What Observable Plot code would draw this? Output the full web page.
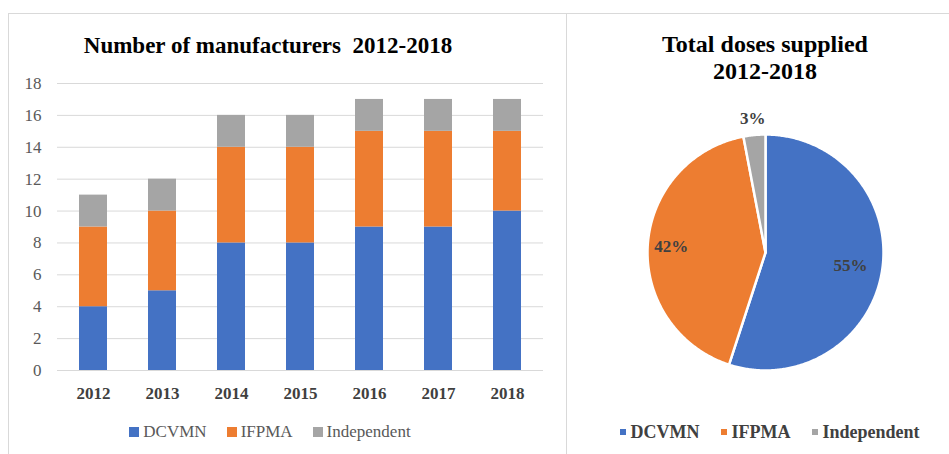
<!DOCTYPE html>
<html>
<head>
<meta charset="utf-8">
<script src="https://cdn.jsdelivr.net/npm/d3@7"></script>
<script src="https://cdn.jsdelivr.net/npm/@observablehq/plot@0.6"></script>
<style>
  html, body { margin: 0; padding: 0; background: #fff; }
  body { width: 949px; height: 454px; overflow: hidden; font-family: "Liberation Serif", Tinos, "Times New Roman", Times, "DejaVu Serif", serif; }
  #root { position: relative; width: 949px; height: 454px; }
  .frame { position: absolute; border-top: 1px solid #d9d9d9; border-left: 1px solid #d9d9d9; box-sizing: border-box; }
  .title { position: absolute; text-align: center; font-weight: bold; color: #000; line-height: 27px; white-space: pre; }
  .legend { position: absolute; display: flex; justify-content: center; align-items: center; height: 24px; white-space: nowrap; }
  .legend .item { display: flex; align-items: center; }
  .chart { position: absolute; }
  svg text { font-family: "Liberation Serif", Tinos, "Times New Roman", Times, "DejaVu Serif", serif; }
  #bar g[aria-label="x-axis tick label"] text { font-weight: bold; }
</style>
</head>
<body>
<div id="root">
  <div class="frame" style="left:8px; top:13px; width:558px; height:441px;"></div>
  <div class="frame" style="left:566px; top:13px; width:383px; height:441px;"></div>
  <div class="title" style="left:18px; top:32px; width:500px; font-size:23px;">Number of manufacturers  2012-2018</div>
  <div class="title" style="left:615px; top:31px; width:300px; font-size:24px;">Total doses supplied<br>2012-2018</div>
  <div id="bar" class="chart" style="left:0px; top:70px;"></div>
  <div id="barLegend" class="legend" style="left:0px; top:420px; width:540px; font-size:17px; color:#595959;"></div>
  <div id="pie" class="chart" style="left:640px; top:100px;"></div>
  <div id="pieLegend" class="legend" style="left:570px; top:420px; width:400px; font-size:18px; font-weight:bold; color:#404040;"></div>
</div>
<script>
// ---- data ----
const years = ["2012", "2013", "2014", "2015", "2016", "2017", "2018"];
const dcvmn = [4, 5, 8, 8, 9, 9, 10];
const ifpma = [5, 5, 6, 6, 6, 6, 5];
const independent = [2, 2, 2, 2, 2, 2, 2];
const seriesNames = ["DCVMN", "IFPMA", "Independent"];
const seriesColors = ["#4472C4", "#ED7D31", "#A5A5A5"];
const yTicks = [0, 2, 4, 6, 8, 10, 12, 14, 16, 18];
const pieShares = [55, 42, 3];
const pieLabels = ["55%", "42%", "3%"];

const fontFamily = '"Liberation Serif", Tinos, "Times New Roman", Times, "DejaVu Serif", serif';

// ---- stacked bar chart ----
const seriesValues = [dcvmn, ifpma, independent];
const rows = [];
seriesNames.forEach((s, i) => {
  years.forEach((y, j) => rows.push({ year: y, series: s, value: seriesValues[i][j] }));
});

const bar = Plot.plot({
  width: 566,
  height: 330,
  marginLeft: 57,
  marginRight: 23,
  marginTop: 13,
  marginBottom: 30,
  style: { fontFamily, background: "transparent", overflow: "visible" },
  x: { domain: years, paddingInner: 0.6, paddingOuter: 0.3, label: null },
  y: { domain: [0, 18], label: null },
  color: { domain: seriesNames, range: seriesColors },
  marks: [
    Plot.gridY(yTicks, { stroke: "#d9d9d9", strokeOpacity: 1, strokeWidth: 1 }),
    Plot.barY(rows, { x: "year", y: "value", fill: "series", order: seriesNames }),
    Plot.axisY(yTicks, { tickSize: 0, tickPadding: 16, fontSize: 17, color: "#595959", label: null }),
    Plot.axisX({ tickSize: 0, tickPadding: 16, fontSize: 17, fontWeight: "bold", color: "#404040", label: null })
  ]
});
document.getElementById("bar").appendChild(bar);

// bar legend
const barLegend = document.getElementById("barLegend");
seriesNames.forEach((s, i) => {
  const item = document.createElement("div");
  item.className = "item";
  item.style.marginRight = i < seriesNames.length - 1 ? "20px" : "0";
  item.innerHTML = `<span style="display:inline-block;width:10px;height:10px;background:${seriesColors[i]};margin-right:4px;"></span><span>${s}</span>`;
  barLegend.appendChild(item);
});

// ---- pie chart ----
const total = d3.sum(pieShares);
const pieRows = [];
const labelRows = [];
let acc = 0;
pieShares.forEach((v, i) => {
  const a0 = (acc / total) * 2 * Math.PI;
  const a1 = ((acc + v) / total) * 2 * Math.PI;
  acc += v;
  const s = seriesNames[i];
  pieRows.push({ series: s, x: 0, y: 0 });
  const n = Math.max(4, Math.ceil((a1 - a0) / 0.01));
  for (let k = 0; k <= n; k++) {
    const a = a0 + ((a1 - a0) * k) / n;
    pieRows.push({ series: s, x: Math.sin(a), y: Math.cos(a) });
  }
  pieRows.push({ series: s, x: 0, y: 0 });
  const mid = (a0 + a1) / 2;
  const r = v / total < 0.05 ? 1.14 : (v / total > 0.5 ? 0.73 : 0.8);
  labelRows.push({ x: Math.sin(mid) * r, y: Math.cos(mid) * r, text: pieLabels[i] });
});

const R = 118;
const pie = Plot.plot({
  width: 250,
  height: 300,
  margin: 0,
  style: { fontFamily, background: "transparent", overflow: "visible" },
  x: { domain: [-125 / R, 125 / R], axis: null },
  y: { domain: [-148 / R, 152 / R], axis: null },
  color: { domain: seriesNames, range: seriesColors },
  marks: [
    Plot.line(pieRows, { x: "x", y: "y", z: "series", fill: "series", stroke: "white", strokeWidth: 2.5, strokeLinejoin: "round", curve: "linear" }),
    Plot.text(labelRows, { x: "x", y: "y", text: "text", fontSize: 17, fontWeight: "bold", fill: "#404040" })
  ]
});
document.getElementById("pie").appendChild(pie);

// pie legend
const pieLegend = document.getElementById("pieLegend");
seriesNames.forEach((s, i) => {
  const item = document.createElement("div");
  item.className = "item";
  item.style.marginRight = i < seriesNames.length - 1 ? "22px" : "0";
  item.innerHTML = `<span style="display:inline-block;width:6px;height:6px;background:${seriesColors[i]};margin-right:4px;"></span><span>${s}</span>`;
  pieLegend.appendChild(item);
});
</script>
</body>
</html>
